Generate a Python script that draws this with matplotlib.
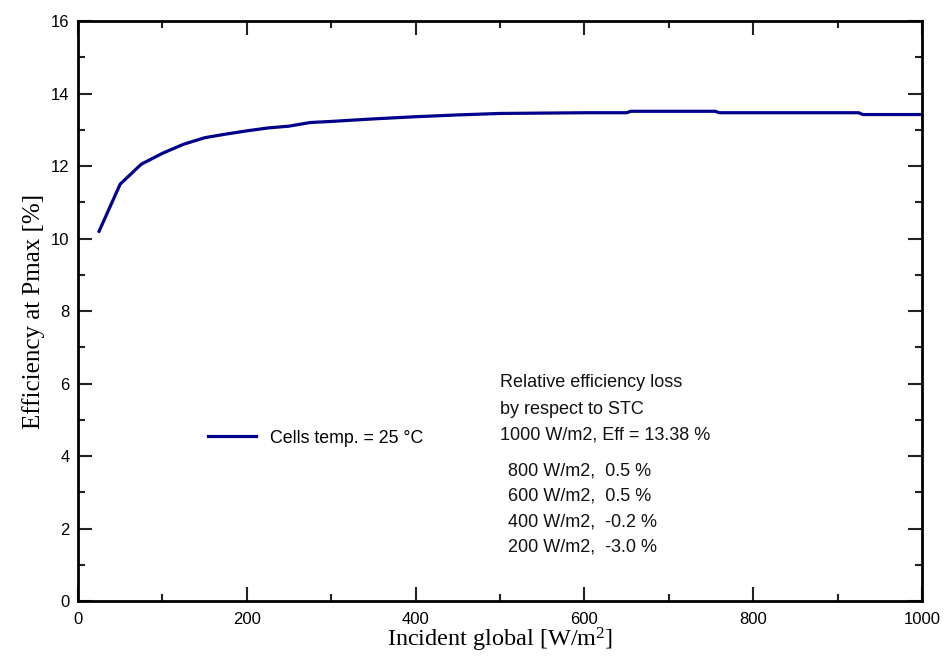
import matplotlib
matplotlib.use("Agg")
import matplotlib.pyplot as plt
from matplotlib.ticker import MultipleLocator

# efficiency at Pmax vs incident irradiance, cells at 25 °C
irradiance = [25, 50, 75, 100, 125, 150, 175, 200, 225, 250, 275, 300, 350,
              400, 450, 500, 550, 600, 650, 655, 700, 755, 760, 800, 850, 900,
              925, 930, 1000]
efficiency = [10.2, 11.5, 12.05, 12.35, 12.6, 12.78, 12.88, 12.97, 13.05,
              13.1, 13.2, 13.23, 13.3, 13.36, 13.41, 13.45, 13.46, 13.47,
              13.47, 13.51, 13.51, 13.51, 13.47, 13.47, 13.47, 13.47, 13.47,
              13.42, 13.42]

loss_title = ["Relative efficiency loss", "by respect to STC",
              "1000 W/m2, Eff = 13.38 %"]
loss_lines = ["800 W/m2,  0.5 %", "600 W/m2,  0.5 %",
              "400 W/m2,  -0.2 %", "200 W/m2,  -3.0 %"]

navy = "#00008b"
sans = "Liberation Sans"
serif = "Liberation Serif"

plt.rcParams["mathtext.fontset"] = "custom"
plt.rcParams["mathtext.rm"] = serif
plt.rcParams["mathtext.it"] = serif + ":italic"

fig = plt.figure(figsize=(9.44, 6.57), dpi=100)
ax = fig.add_axes([0.0826, 0.0852, 0.894, 0.8828])

ax.plot(irradiance, efficiency, color=navy, lw=2.3,
        label="Cells temp. = 25 °C")

ax.set_xlim(0, 1000)
ax.set_ylim(0, 16)
ax.xaxis.set_major_locator(MultipleLocator(200))
ax.xaxis.set_minor_locator(MultipleLocator(100))
ax.yaxis.set_major_locator(MultipleLocator(2))
ax.yaxis.set_minor_locator(MultipleLocator(1))
ax.tick_params(which="both", direction="in", top=True, right=True,
               width=1.5, color="#222222")
ax.tick_params(which="major", length=10, labelsize=12)
ax.tick_params(axis="x", which="major", pad=8)
ax.tick_params(axis="y", which="major", pad=6)
ax.tick_params(which="minor", length=5)
for lab in ax.get_xticklabels() + ax.get_yticklabels():
    lab.set_fontfamily(sans)
for sp in ax.spines.values():
    sp.set_linewidth(2)

ax.set_xlabel(r"Incident global [W/m$\mathrm{^2}$]", fontfamily=serif,
              fontsize=17.5, labelpad=-1)
ax.set_ylabel("Efficiency at Pmax [%]", fontfamily=serif, fontsize=18,
              labelpad=4)

leg = ax.legend(loc="center left", bbox_to_anchor=(0.135, 0.281),
                frameon=False, handlelength=2.7, handletextpad=0.8,
                prop={"family": sans, "size": 12.8})

y = 0.376
for s in loss_title:
    ax.text(0.5, y, s, transform=ax.transAxes, fontfamily=sans,
            fontsize=13, va="center", color="#111111")
    y -= 0.045
y -= 0.017
for s in loss_lines:
    ax.text(0.51, y, s, transform=ax.transAxes, fontfamily=sans,
            fontsize=13, va="center", color="#111111")
    y -= 0.0435

fig.savefig("out.png", dpi=100)
